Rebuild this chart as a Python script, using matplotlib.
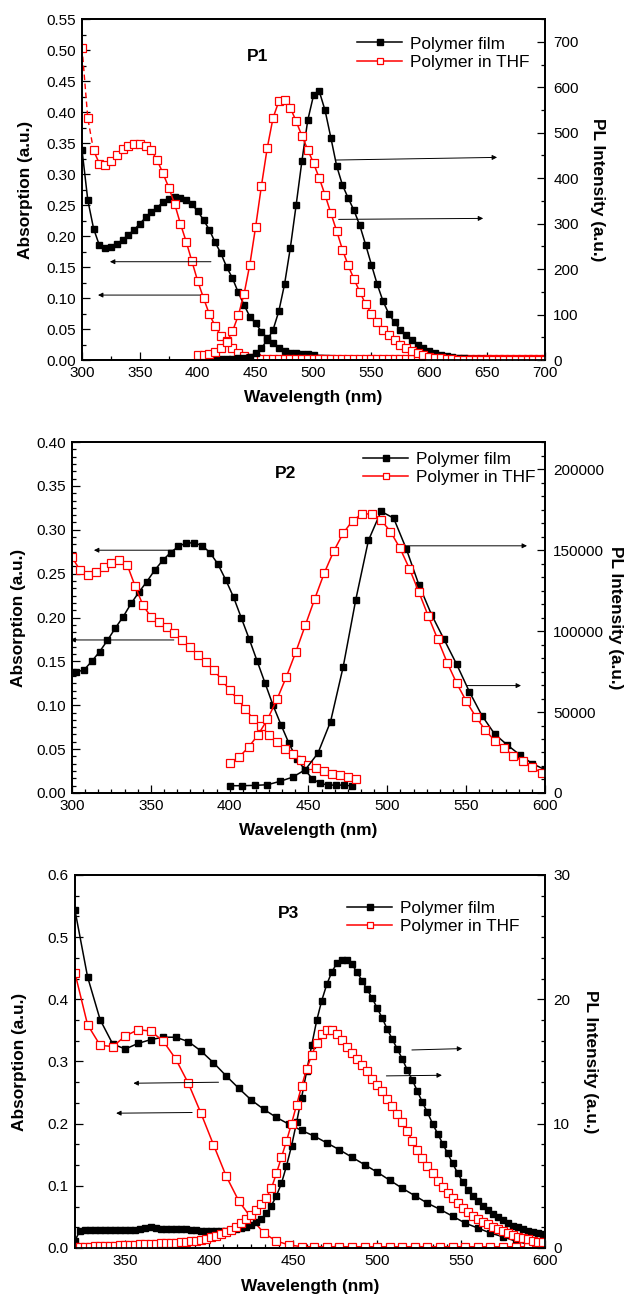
import numpy as np
import matplotlib
matplotlib.use("Agg")
import matplotlib.pyplot as plt
from matplotlib.ticker import MultipleLocator, AutoMinorLocator, FormatStrFormatter

plt.rcParams['font.family'] = ['Liberation Sans', 'DejaVu Sans']

# ---------------- P1 ----------------
p1_film_abs_x = np.arange(300, 501, 5)
p1_film_abs = [0.339, 0.258, 0.212, 0.185, 0.180, 0.183, 0.187, 0.194, 0.202, 0.210,
               0.220, 0.230, 0.238, 0.246, 0.255, 0.260, 0.263, 0.262, 0.258, 0.251,
               0.240, 0.226, 0.210, 0.190, 0.172, 0.150, 0.132, 0.109, 0.089, 0.070,
               0.059, 0.046, 0.035, 0.027, 0.019, 0.015, 0.012, 0.011, 0.010, 0.009,
               0.008]
p1_film_abs_tail_x = np.arange(500, 651, 10)
p1_film_abs_tail = [0.008, 0.0075, 0.007, 0.0065, 0.006, 0.0055, 0.005, 0.0045, 0.004,
                    0.0035, 0.003, 0.0025, 0.002, 0.0015, 0.001, 0.0005]
p1_thf_abs_x = np.arange(300, 701, 5)
p1_thf_abs = [0.504, 0.390, 0.338, 0.317, 0.315, 0.321, 0.331, 0.340, 0.345, 0.349,
              0.349, 0.346, 0.338, 0.322, 0.301, 0.278, 0.252, 0.220, 0.191, 0.159,
              0.127, 0.100, 0.074, 0.055, 0.039, 0.030, 0.019, 0.011, 0.006, 0.004,
              0.003, 0.002, 0.002, 0.001, 0.001, 0.001, 0.001, 0.001, 0.001, 0.001,
              0.001, 0.001, 0.001, 0.001, 0.001, 0.001, 0.001, 0.001, 0.001, 0.001,
              0.001, 0.001, 0.001, 0.001, 0.001, 0.001, 0.001, 0.001, 0.001, 0.001,
              0.001, 0.001, 0.001, 0.001, 0.001, 0.001, 0.001, 0.001, 0.001, 0.001,
              0.001, 0.001, 0.001, 0.001, 0.001, 0.001, 0.001, 0.001, 0.001, 0.001,
              0.001]
p1_film_pl_x = np.arange(400, 646, 5)
p1_film_pl = [1, 1, 1, 1.5, 2, 2, 3, 3.5, 4, 7,
              15, 26, 44, 66, 107, 167, 247, 341, 438, 527,
              582, 591, 549, 489, 427, 385, 356, 329, 296, 254,
              210, 167, 130, 102, 83, 66, 54, 43, 33, 26,
              20, 15, 11, 9, 7, 5, 4, 3, 2, 1.5]
p1_thf_pl_x = np.arange(400, 701, 5)
p1_thf_pl = [12, 12, 14, 18, 27, 40, 63, 98, 145, 210,
             293, 383, 466, 532, 569, 572, 555, 525, 493, 463,
             433, 400, 363, 323, 284, 243, 208, 178, 150, 123,
             102, 83, 66, 54, 43, 33, 26, 20, 15, 11,
             7, 5, 4, 2, 1.5, 1, 1, 1, 1, 1,
             1, 1, 1, 1, 1, 1, 1, 1, 1, 1, 1]

# ---------------- P2 ----------------
p2_film_abs_x = np.arange(302.5, 480, 5)
p2_film_abs = [0.138, 0.140, 0.150, 0.161, 0.174, 0.188, 0.201, 0.216, 0.229, 0.241,
               0.254, 0.265, 0.274, 0.281, 0.285, 0.285, 0.282, 0.274, 0.261, 0.243,
               0.223, 0.199, 0.175, 0.150, 0.125, 0.100, 0.078, 0.057, 0.039, 0.027,
               0.016, 0.011, 0.009, 0.009, 0.009, 0.008]
p2_thf_abs_x = np.arange(300, 481, 5)
p2_thf_abs = [0.269, 0.254, 0.249, 0.252, 0.258, 0.262, 0.265, 0.260, 0.236, 0.214,
              0.201, 0.195, 0.189, 0.182, 0.174, 0.166, 0.157, 0.149, 0.140, 0.129,
              0.117, 0.107, 0.096, 0.084, 0.076, 0.066, 0.058, 0.050, 0.044, 0.038,
              0.032, 0.028, 0.025, 0.022, 0.020, 0.018, 0.016]
p2_film_pl_x = np.arange(400, 601, 8)
p2_film_pl = [4500, 4500, 4700, 5100, 7200, 9800, 14400, 24600, 44100, 77900,
              119400, 155900, 173900, 169700, 150800, 128600, 110200, 94800, 79400, 62600,
              47800, 36500, 29700, 23600, 18100, 14400]
p2_thf_pl_x = np.arange(400, 599, 6)
p2_thf_pl = [18500, 22200, 28300, 35900, 45500, 57800, 71800, 87200, 103600, 120000,
             135800, 149300, 160400, 168200, 172300, 172300, 168600, 161400, 151200, 138500,
             124100, 109100, 94800, 80400, 67700, 56800, 47200, 39000, 32400, 27700,
             23000, 19500, 15800, 12300]

# ---------------- P3 ----------------
p3_abs_x = np.arange(320, 600, 7.5)
p3_film_abs = [0.543, 0.436, 0.367, 0.328, 0.320, 0.329, 0.335, 0.339, 0.339, 0.332,
               0.317, 0.298, 0.277, 0.257, 0.238, 0.223, 0.210, 0.199, 0.189, 0.180,
               0.169, 0.158, 0.146, 0.134, 0.122, 0.109, 0.096, 0.084, 0.072, 0.062,
               0.051, 0.040, 0.032, 0.024, 0.018, 0.011, 0.006, 0.004]
p3_thf_abs = [0.442, 0.359, 0.326, 0.324, 0.341, 0.351, 0.349, 0.333, 0.304, 0.265,
              0.217, 0.166, 0.116, 0.076, 0.048, 0.024, 0.011, 0.005, 0.002, 0.002,
              0.002, 0.002, 0.002, 0.002, 0.002, 0.002, 0.002, 0.002, 0.002, 0.002,
              0.002, 0.002, 0.002, 0.002, 0.002, 0.002, 0.002, 0.002]
p3_pl_x = np.arange(320, 600, 3)
p3_film_pl = [0.6, 1.4, 1.45, 1.45, 1.45, 1.45, 1.45, 1.45, 1.45, 1.45,
              1.45, 1.45, 1.45, 1.5, 1.6, 1.65, 1.6, 1.55, 1.5, 1.5,
              1.5, 1.5, 1.5, 1.45, 1.45, 1.4, 1.4, 1.4, 1.4, 1.4,
              1.4, 1.45, 1.5, 1.6, 1.7, 1.85, 2.05, 2.35, 2.8, 3.4,
              4.2, 5.2, 6.6, 8.2, 10.1, 12.1, 14.2, 16.3, 18.3, 19.9,
              21.2, 22.2, 22.9, 23.2, 23.2, 22.8, 22.2, 21.5, 20.8, 20.1,
              19.3, 18.5, 17.6, 16.8, 16.0, 15.2, 14.3, 13.5, 12.6, 11.7,
              10.9, 10.0, 9.2, 8.4, 7.6, 6.8, 6.0, 5.3, 4.7, 4.2,
              3.8, 3.4, 3.05, 2.75, 2.5, 2.25, 2.0, 1.8, 1.65, 1.5,
              1.4, 1.3, 1.2, 1.1]
p3_thf_pl = [0.1, 0.1, 0.1, 0.1, 0.12, 0.14, 0.15, 0.17, 0.19, 0.2,
             0.22, 0.24, 0.26, 0.28, 0.3, 0.32, 0.34, 0.36, 0.38, 0.4,
             0.43, 0.46, 0.5, 0.55, 0.6, 0.67, 0.75, 0.85, 0.97, 1.1,
             1.27, 1.46, 1.7, 1.98, 2.3, 2.65, 3.05, 3.5, 4.05, 4.8,
             6.0, 7.3, 8.6, 10.0, 11.5, 13.0, 14.4, 15.5, 16.5, 17.2,
             17.5, 17.5, 17.2, 16.7, 16.2, 15.7, 15.2, 14.7, 14.2, 13.6,
             13.1, 12.6, 12.0, 11.4, 10.8, 10.1, 9.4, 8.6, 7.9, 7.2,
             6.6, 6.0, 5.4, 4.9, 4.45, 4.0, 3.6, 3.2, 2.9, 2.6,
             2.35, 2.1, 1.9, 1.7, 1.5, 1.35, 1.2, 1.05, 0.92, 0.8,
             0.7, 0.6, 0.52, 0.45]

film_style = dict(color='black', lw=1.1, marker='s', ms=5, mfc='black', mec='black')
thf_style = dict(color='red', lw=1.1, marker='s', ms=5.3, mfc='white', mec='red', mew=0.9)

fig = plt.figure(figsize=(6.26, 12.97), dpi=100)


def setup(rect, xlim, ylim, y2lim, xmaj, xmin_n, ymaj, ymin_n, y2maj, y2min_n,
          lab_left, lab_right, lab_bottom):
    ax = fig.add_axes(rect)
    ax2 = ax.twinx()
    ax.set_xlim(*xlim)
    ax.set_ylim(*ylim)
    ax2.set_ylim(*y2lim)
    ax.xaxis.set_major_locator(MultipleLocator(xmaj))
    ax.xaxis.set_minor_locator(AutoMinorLocator(xmin_n))
    ax.yaxis.set_major_locator(MultipleLocator(ymaj))
    ax.yaxis.set_minor_locator(AutoMinorLocator(ymin_n))
    ax2.yaxis.set_major_locator(MultipleLocator(y2maj))
    ax2.yaxis.set_minor_locator(AutoMinorLocator(y2min_n))
    ax2.yaxis.set_major_formatter(FormatStrFormatter('%d'))
    for a in (ax, ax2):
        for s in a.spines.values():
            s.set_linewidth(1.3)
    ax.tick_params(which='both', direction='in', width=0.9, labelsize=11)
    ax.tick_params(which='major', length=5.5)
    ax.tick_params(which='minor', length=3)
    ax.tick_params(axis='y', pad=4.5)
    ax.tick_params(axis='x', pad=4.5)
    ax2.tick_params(which='both', direction='in', width=0.9, labelsize=11, pad=6)
    ax2.tick_params(which='major', length=5.5)
    ax2.tick_params(which='minor', length=3)
    ax.set_xlabel('Wavelength (nm)', fontsize=12.4, fontweight='bold', va='center')
    ax.set_ylabel('Absorption (a.u.)', fontsize=12.4, fontweight='bold', va='center')
    ax2.set_ylabel('PL Intensity (a.u.)', fontsize=12.4, fontweight='bold',
                   rotation=270, va='center')
    ax.xaxis.set_label_coords(0.5, lab_bottom)
    ax.yaxis.set_label_coords(lab_left, 0.5)
    ax2.yaxis.set_label_coords(lab_right, 0.5)
    return ax, ax2


def arrow(ax, x0, y0, x1, y1):
    ax.annotate('', xy=(x1, y1), xytext=(x0, y0), annotation_clip=False,
                arrowprops=dict(arrowstyle='-|>', color='black', lw=0.7,
                                mutation_scale=7, shrinkA=0, shrinkB=0))


def legend(ax2, h1, h2, x, y):
    ax2.legend([h1, h2], ['Polymer film', 'Polymer in THF'], loc='upper left',
               bbox_to_anchor=(x, y), frameon=False, fontsize=12.4, numpoints=1,
               handlelength=2.6, handletextpad=0.45, labelspacing=0.18,
               borderpad=0, borderaxespad=0, markerscale=0.85)


# ---- panel P1 ----
ax, ax2 = setup([0.1310, 0.7224, 0.7396, 0.2629], (300, 700), (0, 0.55), (0, 750),
                50, 2, 0.05, 2, 100, 2, -0.121, 1.114, -0.1085)
h1, = ax.plot(p1_film_abs_x, p1_film_abs, **film_style)
ax.plot(p1_film_abs_tail_x, p1_film_abs_tail, color='black', lw=1.0)
ax.plot(p1_thf_abs_x[:3], p1_thf_abs[:3], color='red', lw=1.0, ls=(0, (4, 2.5)))
h2, = ax.plot(p1_thf_abs_x[2:], p1_thf_abs[2:], **thf_style)
ax.plot(p1_thf_abs_x[:2], p1_thf_abs[:2], ls='none', marker='s', ms=5.3,
        mfc='white', mec='red', mew=0.9)
ax2.plot(p1_film_pl_x, p1_film_pl, **film_style)
ax2.plot(p1_thf_pl_x, p1_thf_pl, **thf_style)
arrow(ax, 411.4, 0.1586, 324.1, 0.1586)
arrow(ax, 401.7, 0.1048, 313.8, 0.1048)
arrow(ax, 519.0, 0.3226, 658.6, 0.3269)
arrow(ax, 521.7, 0.2269, 646.6, 0.2285)
ax.text(452, 0.490, 'P1', fontsize=12.5, fontweight='bold', ha='center', va='center')
legend(ax2, h1, h2, 0.595, 0.949)

# ---- panel P2 ----
ax, ax2 = setup([0.1150, 0.3886, 0.7556, 0.2706], (300, 600), (0, 0.40), (0, 216700),
                50, 6, 0.05, 6, 50000, 6, -0.114, 1.150, -0.108)
h1, = ax.plot(p2_film_abs_x, p2_film_abs, **film_style)
h2, = ax.plot(p2_thf_abs_x, p2_thf_abs, **thf_style)
ax2.plot(p2_film_pl_x, p2_film_pl, **film_style)
ax2.plot(p2_thf_pl_x, p2_thf_pl, **thf_style)
arrow(ax, 364.6, 0.2767, 313.9, 0.2767)
arrow(ax, 364.6, 0.1744, 299.0, 0.1744)
arrow(ax, 511.4, 0.2817, 588.6, 0.2817)
arrow(ax, 550.6, 0.1224, 584.8, 0.1224)
ax.text(435.4, 0.364, 'P2', fontsize=12.5, fontweight='bold', ha='center', va='center')
legend(ax2, h1, h2, 0.616, 0.971)

# ---- panel P3 ----
ax, ax2 = setup([0.1198, 0.0378, 0.7508, 0.2876], (320, 600), (0, 0.6), (0, 30),
                50, 6, 0.1, 3, 10, 6, -0.119, 1.096, -0.1046)
h1, = ax.plot(p3_abs_x, p3_film_abs, **film_style)
h2, = ax.plot(p3_abs_x, p3_thf_abs, **thf_style)
ax2.plot(p3_pl_x, p3_film_pl, **film_style)
ax2.plot(p3_pl_x, p3_thf_pl, **thf_style)
arrow(ax, 405.5, 0.2666, 354.8, 0.2650)
arrow(ax, 389.8, 0.2179, 344.5, 0.2168)
arrow(ax, 520.7, 0.3185, 550.7, 0.3207)
arrow(ax, 505.5, 0.2768, 538.6, 0.2778)
ax.text(447, 0.538, 'P3', fontsize=12.5, fontweight='bold', ha='center', va='center')
legend(ax2, h1, h2, 0.579, 0.931)

fig.savefig('out.png', dpi=100)
